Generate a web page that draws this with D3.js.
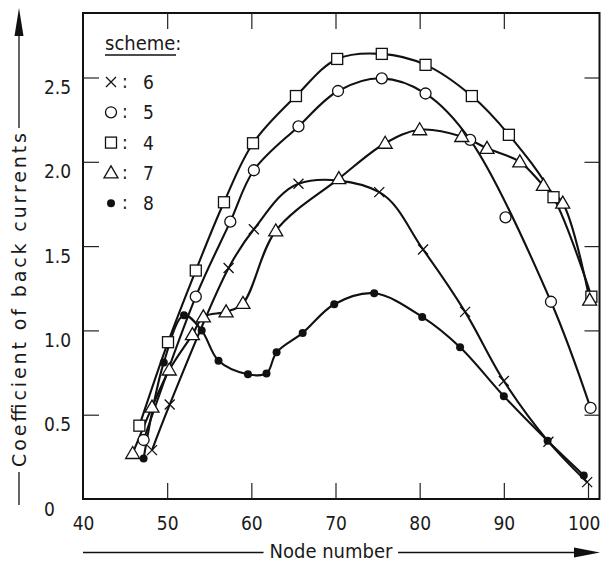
<!DOCTYPE html>
<html lang="en">

<head>
    <meta charset="utf-8">
    <script src="https://d3js.org/d3.v7.min.js"></script>
    <style>
        body { margin: 0; background: #fff; }
        svg text { font-family: "DejaVu Sans Condensed", "DejaVu Sans", sans-serif; fill: #1a1a1a; }
    </style>
</head>

<body>
    <script>
        // ticks
        const xTicks = [40, 50, 60, 70, 80, 90, 100];
        const yTicks = [0, 0.5, 1.0, 1.5, 2.0, 2.5];

        // scheme 6 (crosses)
        const nodes6 = [48.2, 50.3, 57.3, 60.3, 65.6, 75.2, 80.4, 85.4, 90.0, 95.3, 99.9];
        const coef6 = [0.29, 0.56, 1.37, 1.60, 1.87, 1.82, 1.48, 1.11, 0.70, 0.34, 0.10];
        // scheme 5 (circles)
        const nodes5 = [47.2, 53.4, 57.5, 60.3, 65.6, 70.3, 75.5, 80.7, 86.0, 90.2, 95.6, 100.3];
        const coef5 = [0.35, 1.20, 1.645, 1.95, 2.21, 2.42, 2.495, 2.405, 2.13, 1.67, 1.17, 0.54];
        const outliers5 = [90.2]; // point the curve does not go through
        // scheme 4 (squares)
        const nodes4 = [46.7, 50.1, 53.4, 56.75, 60.2, 65.3, 70.2, 75.5, 80.7, 86.2, 90.6, 95.9, 100.4];
        const coef4 = [0.435, 0.93, 1.355, 1.76, 2.11, 2.39, 2.61, 2.64, 2.575, 2.39, 2.16, 1.79, 1.20];
        // scheme 7 (triangles)
        const nodes7 = [45.9, 48.2, 50.25, 53.0, 54.3, 57.0, 59.0, 62.9, 70.4, 75.9, 80.0, 85.0, 88.0, 91.9, 94.7, 97.0, 100.2];
        const coef7 = [0.27, 0.545, 0.765, 0.975, 1.08, 1.11, 1.16, 1.59, 1.90, 2.11, 2.19, 2.15, 2.08, 2.00, 1.86, 1.755, 1.18];
        // scheme 8 (dots)
        const nodes8 = [47.2, 49.6, 52.0, 54.1, 56.1, 59.6, 61.8, 63.0, 66.1, 69.85, 74.6, 80.3, 84.8, 90.0, 95.2, 99.5];
        const coef8 = [0.24, 0.81, 1.09, 1.0, 0.82, 0.74, 0.745, 0.87, 0.985, 1.155, 1.22, 1.08, 0.90, 0.61, 0.345, 0.14];

        const legendKeys = ["6", "5", "4", "7", "8"];
        const legendShapes = ["cross", "circle", "square", "triangle", "dot"];

        const series = [
            { shape: "cross", nodes: nodes6, coef: coef6, skip: [] },
            { shape: "circle", nodes: nodes5, coef: coef5, skip: outliers5 },
            { shape: "square", nodes: nodes4, coef: coef4, skip: [] },
            { shape: "triangle", nodes: nodes7, coef: coef7, skip: [] },
            { shape: "dot", nodes: nodes8, coef: coef8, skip: [] }
        ];

        const width = 601, height = 562;
        const plotLeft = 83, plotTop = 13, plotRight = 599.5, plotBottom = 499;

        const x = d3.scaleLinear().domain([40, 100]).range([plotLeft, 588]);
        const y = d3.scaleLinear().domain([0, 2.5]).range([plotBottom, 77.5]);

        const svg = d3.select("body").append("svg")
            .attr("width", width)
            .attr("height", height);

        // frame
        svg.append("rect")
            .attr("x", plotLeft).attr("y", plotTop)
            .attr("width", plotRight - plotLeft).attr("height", plotBottom - plotTop)
            .attr("fill", "none").attr("stroke", "#111").attr("stroke-width", 2);

        const yFmt = d => d === 0 ? "0" : d3.format(".1f")(d);

        // bottom axis (inward ticks)
        const gx = svg.append("g")
            .attr("transform", "translate(0," + plotBottom + ")")
            .call(d3.axisBottom(x).tickValues(xTicks).tickSizeInner(-16).tickSizeOuter(0).tickPadding(18));
        gx.select(".domain").remove();
        gx.selectAll(".tick line").attr("stroke", "#222").attr("stroke-width", 1.2);
        gx.selectAll(".tick text").style("font-size", "19px").attr("fill", "#1a1a1a");
        gx.selectAll(".tick").filter(d => d === 40).select("line").remove();
        // last label sits against the page edge
        gx.selectAll(".tick").filter(d => d === 100).select("text")
            .attr("text-anchor", "end").attr("x", width - 1 - x(100));

        // top ticks
        const gt = svg.append("g")
            .attr("transform", "translate(0," + plotTop + ")")
            .call(d3.axisTop(x).tickValues(xTicks.filter(d => d > 40 && d < 100)).tickSizeInner(-16).tickSizeOuter(0));
        gt.select(".domain").remove();
        gt.selectAll("text").remove();
        gt.selectAll(".tick line").attr("stroke", "#222").attr("stroke-width", 1.2);

        // left axis
        const gy = svg.append("g")
            .attr("transform", "translate(" + plotLeft + ",0)")
            .call(d3.axisLeft(y).tickValues(yTicks).tickFormat(yFmt).tickSizeInner(-16).tickSizeOuter(0));
        gy.select(".domain").remove();
        gy.selectAll(".tick line").attr("stroke", "#222").attr("stroke-width", 1.2);
        gy.selectAll(".tick").filter(d => d === 0).select("line").remove();
        gy.selectAll(".tick text")
            .style("font-size", "19px")
            .attr("fill", "#1a1a1a")
            .attr("text-anchor", "start")
            .attr("x", 44 - plotLeft)
            .attr("dy", "16px");

        // right ticks
        const gr = svg.append("g")
            .attr("transform", "translate(" + plotRight + ",0)")
            .call(d3.axisRight(y).tickValues(yTicks.filter(d => d > 0)).tickSizeInner(-15).tickSizeOuter(0));
        gr.select(".domain").remove();
        gr.selectAll("text").remove();
        gr.selectAll(".tick line").attr("stroke", "#222").attr("stroke-width", 1.2);

        // curves
        const line = d3.line()
            .x(d => x(d[0]))
            .y(d => y(d[1]))
            .curve(d3.curveCatmullRom.alpha(0.5));

        series.forEach(s => {
            const pts = s.nodes.map((n, i) => [n, s.coef[i]]).filter(p => s.skip.indexOf(p[0]) < 0);
            svg.append("path")
                .datum(pts)
                .attr("d", line)
                .attr("fill", "none")
                .attr("stroke", "#111")
                .attr("stroke-width", 2.1);
        });

        // marker drawing
        function drawMarker(g, shape) {
            if (shape === "cross") {
                g.append("path").attr("d", "M-5,-5L5,5M-5,5L5,-5")
                    .attr("stroke", "#111").attr("stroke-width", 1.3).attr("fill", "none");
            } else if (shape === "circle") {
                g.append("circle").attr("r", 5.5)
                    .attr("fill", "#fff").attr("stroke", "#111").attr("stroke-width", 1.3);
            } else if (shape === "square") {
                g.append("rect").attr("x", -5.5).attr("y", -5.5).attr("width", 11).attr("height", 11)
                    .attr("fill", "#fff").attr("stroke", "#111").attr("stroke-width", 1.3);
            } else if (shape === "triangle") {
                g.append("path").attr("d", "M0,-7L7,5L-7,5Z")
                    .attr("fill", "#fff").attr("stroke", "#111").attr("stroke-width", 1.3);
            } else {
                g.append("circle").attr("r", 4).attr("fill", "#111");
            }
        }

        series.forEach(s => {
            const pts = s.nodes.map((n, i) => [n, s.coef[i]]);
            svg.append("g").selectAll("g")
                .data(pts)
                .enter()
                .append("g")
                .attr("transform", d => "translate(" + x(d[0]) + "," + y(d[1]) + ")")
                .each(function () { drawMarker(d3.select(this), s.shape); });
        });

        // legend
        svg.append("text")
            .attr("x", 105).attr("y", 50)
            .style("font-size", "20px")
            .text("scheme:");
        svg.append("line")
            .attr("x1", 105).attr("x2", 176).attr("y1", 55).attr("y2", 55)
            .attr("stroke", "#111").attr("stroke-width", 1.5);

        legendKeys.forEach((k, i) => {
            const cy = 82 + i * 30.3;
            const g = svg.append("g").attr("transform", "translate(111," + cy + ")");
            drawMarker(g, legendShapes[i]);
            svg.append("text").attr("x", 125).attr("y", cy + 6).attr("text-anchor", "middle")
                .style("font-size", "19px").text(":");
            svg.append("text").attr("x", 143).attr("y", cy + 7)
                .style("font-size", "19px").text(k);
        });

        // x title with arrow
        const xt = svg.append("text")
            .attr("x", 331).attr("y", 558)
            .attr("text-anchor", "middle")
            .style("font-size", "20px")
            .text("Node number");
        const xb = xt.node().getBBox();
        svg.append("line").attr("x1", plotLeft).attr("x2", xb.x - 6).attr("y1", 552.5).attr("y2", 552.5)
            .attr("stroke", "#111").attr("stroke-width", 1.3);
        svg.append("line").attr("x1", xb.x + xb.width + 5).attr("x2", 580).attr("y1", 552.5).attr("y2", 552.5)
            .attr("stroke", "#111").attr("stroke-width", 1.3);
        svg.append("path").attr("d", "M600,552.5L574,547.5L574,557.5Z").attr("fill", "#111");

        // y title with arrow
        const yLen = 334;
        svg.append("text")
            .attr("transform", "translate(26,300) rotate(-90)")
            .attr("text-anchor", "middle")
            .attr("textLength", yLen)
            .attr("lengthAdjust", "spacing")
            .style("font-family", "'DejaVu Sans', sans-serif")
            .style("font-size", "19px")
            .text("Coefficient of back currents");
        svg.append("line").attr("x1", 19).attr("x2", 19).attr("y1", 505).attr("y2", 300 + yLen / 2 + 5)
            .attr("stroke", "#111").attr("stroke-width", 1.3);
        svg.append("line").attr("x1", 19).attr("x2", 19).attr("y1", 300 - yLen / 2 - 5).attr("y2", 32)
            .attr("stroke", "#111").attr("stroke-width", 1.3);
        svg.append("path").attr("d", "M19,8L14.5,36L23.5,36Z").attr("fill", "#111");
    </script>
</body>

</html>
